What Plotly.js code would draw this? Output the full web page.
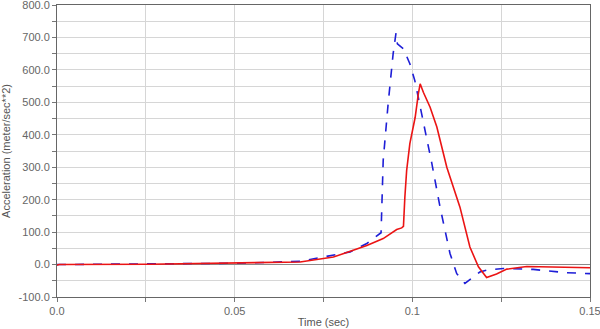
<!DOCTYPE html>
<html>
<head>
<meta charset="utf-8">
<script src="https://cdn.plot.ly/plotly-3.0.1.min.js"></script>
<style>html,body{margin:0;padding:0;background:#fff;}#chart{width:600px;height:329px;}</style>
</head>
<body>
<div id="chart"></div>
<script>
// Red solid series
var redTime = [0, 0.0006, 0.0262, 0.0393, 0.0501, 0.0599, 0.0684, 0.0778, 0.0872, 0.0918, 0.0956, 0.0970, 0.0975, 0.0979, 0.0984, 0.0993, 0.1008, 0.1017, 0.1022, 0.1031, 0.1050, 0.1069, 0.1097, 0.1134, 0.1162, 0.1186, 0.1209, 0.1237, 0.1266, 0.1322, 0.1387, 0.1500];
var redAccel = [-2, 0, 1, 3, 4, 6, 8, 23, 59, 80, 108, 113, 118, 208, 290, 373, 454, 527, 557, 531, 485, 424, 300, 177, 54, -7, -40, -29, -14, -6, -7, -10];
// Blue dashed series
var blueTime = [0, 0.0262, 0.0501, 0.0599, 0.0684, 0.0825, 0.0872, 0.0912, 0.0918, 0.0932, 0.0946, 0.0954, 0.0958, 0.0975, 0.0993, 0.1007, 0.1031, 0.1055, 0.1078, 0.1106, 0.1125, 0.1148, 0.1190, 0.1209, 0.1256, 0.1340, 0.1434, 0.1500];
var blueAccel = [0, 1, 4, 7, 10, 39, 65, 98, 321, 497, 650, 713, 680, 665, 619, 567, 444, 311, 177, 34, -28, -58, -23, -17, -12, -15, -25, -28];
// Tick labels
var xTickVals = [0, 0.05, 0.1, 0.15];
var xTickText = ["0.0", "0.05", "0.1", "0.15"];
var yTickVals = [-100, 0, 100, 200, 300, 400, 500, 600, 700, 800];
var yTickText = ["-100.0", "0.0", "100.0", "200.0", "300.0", "400.0", "500.0", "600.0", "700.0", "800.0"];

var traces = [
  {x: blueTime, y: blueAccel, type: 'scatter', mode: 'lines',
   line: {color: 'rgb(30,30,215)', width: 1.6, dash: 'dash'}, hoverinfo: 'skip'},
  {x: redTime, y: redAccel, type: 'scatter', mode: 'lines',
   line: {color: 'rgb(235,20,20)', width: 1.6}, hoverinfo: 'skip'}
];

var layout = {
  width: 600, height: 329,
  margin: {l: 57, r: 10, t: 5, b: 32},
  paper_bgcolor: '#fff', plot_bgcolor: '#fff',
  showlegend: false,
  font: {family: 'Liberation Sans, Arial, sans-serif', size: 11, color: '#666'},
  xaxis: {
    range: [0, 0.15],
    tickmode: 'array', tickvals: xTickVals, ticktext: xTickText,
    ticks: 'outside', ticklen: 4, tickcolor: '#777',
    ticklabeloverflow: 'allow',
    showgrid: true, gridcolor: '#d6d6d6', gridwidth: 1,
    minor: {dtick: 0.025, tick0: 0, ticks: 'outside', ticklen: 4, tickcolor: '#777', showgrid: true, gridcolor: '#d6d6d6'},
    showline: true, linecolor: '#666', linewidth: 1, mirror: true,
    zeroline: false,
    tickfont: {size: 11, color: '#666'},
    title: {text: 'Time (sec)', font: {size: 11, color: '#555'}, standoff: 2}
  },
  yaxis: {
    range: [-100, 800],
    tickmode: 'array', tickvals: yTickVals, ticktext: yTickText,
    ticks: 'outside', ticklen: 4, tickcolor: '#777',
    ticklabeloverflow: 'allow',
    showgrid: true, gridcolor: '#d6d6d6', gridwidth: 1,
    minor: {dtick: 50, tick0: 0, ticks: 'outside', ticklen: 4, tickcolor: '#777', showgrid: true, gridcolor: '#d6d6d6'},
    showline: true, linecolor: '#666', linewidth: 1, mirror: true,
    zeroline: true, zerolinecolor: '#8a8a8a', zerolinewidth: 1.2,
    tickfont: {size: 11, color: '#666'},
    title: {text: 'Acceleration (meter/sec**2)', font: {size: 11, color: '#555'}, standoff: 6}
  }
};

Plotly.newPlot('chart', traces, layout, {staticPlot: true, displayModeBar: false});
</script>
</body>
</html>
